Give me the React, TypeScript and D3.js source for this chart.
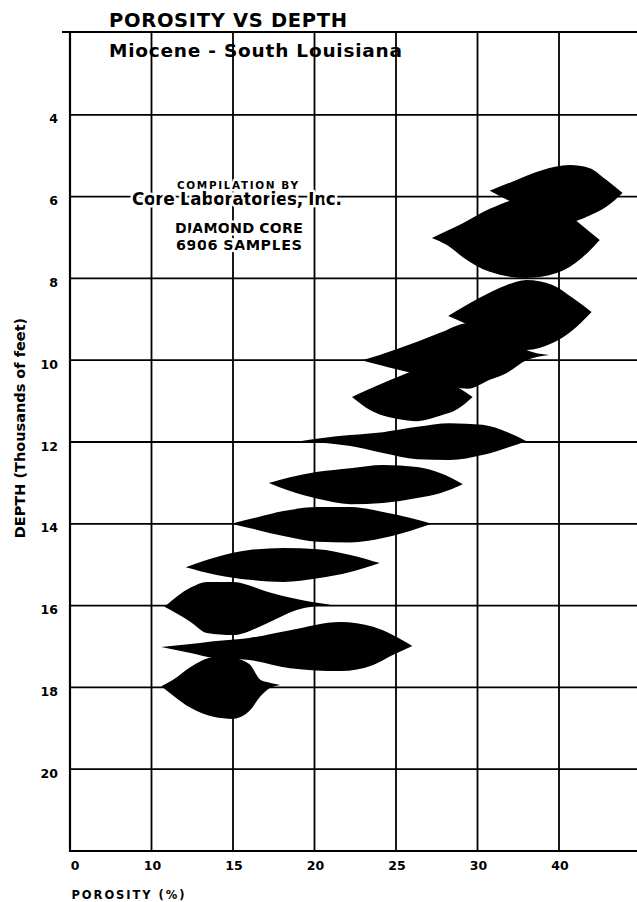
import React from 'react';
import * as d3 from 'd3';

// axis ticks as printed on the chart
const porosityTicks = [0, 10, 15, 20, 25, 30, 40];
const depthTicks = [4, 6, 8, 10, 12, 14, 16, 18, 20];

// porosity distribution per depth band: [porosity %, upper edge depth, lower edge depth] (thousand ft)
const band6 = [
  [31.5, 5.86, 5.86], [34.2, 5.64, 6.13], [38.0, 5.35, 6.38], [41.3, 5.23, 6.62],
  [43.7, 5.30, 6.47], [45.8, 5.59, 6.25], [47.8, 5.91, 5.91],
];
const band7 = [
  [27.2, 7.01, 7.01], [28.1, 6.84, 7.18], [29.1, 6.65, 7.48], [31.5, 6.30, 7.84],
  [36.0, 6.03, 7.99], [39.7, 6.21, 7.87], [42.9, 6.72, 7.48], [45.0, 7.06, 7.06],
];
const band9 = [
  [28.2, 8.92, 8.92], [30.2, 8.48, 9.26], [33.6, 8.16, 9.63], [36.0, 8.04, 9.75],
  [39.2, 8.16, 9.58], [41.7, 8.48, 9.26], [44.0, 8.82, 8.82],
];
const band10 = [
  [22.9, 10.0, 10.0], [24.0, 9.87, 10.12], [26.3, 9.55, 10.36], [27.7, 9.33, 10.56],
  [29.4, 9.09, 10.70], [31.5, 9.07, 10.48], [33.6, 9.31, 10.31], [36.0, 9.75, 10.0],
  [38.8, 9.87, 9.87],
];
const band11 = [
  [22.3, 10.90, 10.90], [23.4, 10.70, 11.22], [25.1, 10.41, 11.44], [26.3, 10.26, 11.49],
  [27.7, 10.41, 11.36], [28.8, 10.66, 11.19], [29.7, 10.90, 10.90],
];
const band12 = [
  [19.1, 11.98, 11.98], [20.5, 11.90, 12.02], [22.2, 11.83, 12.10], [24.2, 11.76, 12.27],
  [26.3, 11.63, 12.42], [28.3, 11.54, 12.44], [30.6, 11.58, 12.32], [33.9, 11.78, 12.12],
  [36.0, 11.98, 11.98],
];
const band13 = [
  [17.2, 13.0, 13.0], [18.5, 12.86, 13.20], [20.2, 12.73, 13.39], [22.2, 12.64, 13.52],
  [24.2, 12.56, 13.49], [26.3, 12.61, 13.37], [27.7, 12.76, 13.25], [29.1, 13.03, 13.03],
];
const band14 = [
  [14.9, 14.0, 14.0], [16.5, 13.84, 14.15], [18.1, 13.69, 14.30], [20.2, 13.59, 14.44],
  [22.2, 13.59, 14.46], [24.2, 13.71, 14.35], [25.9, 13.86, 14.17], [27.2, 14.0, 14.0],
];
const band15 = [
  [12.1, 15.06, 15.06], [14.0, 14.81, 15.25], [16.0, 14.64, 15.37], [18.1, 14.59, 15.42],
  [20.2, 14.62, 15.33], [22.2, 14.76, 15.18], [24.0, 14.96, 14.96],
];
const band16 = [
  [10.8, 16.03, 16.03], [12.4, 15.56, 16.40], [13.4, 15.42, 16.67], [15.0, 15.42, 16.72],
  [17.1, 15.66, 16.43], [18.9, 15.84, 16.11], [21.0, 15.98, 15.98],
];
const band17 = [
  [10.6, 17.01, 17.01], [12.4, 16.94, 17.16], [13.8, 16.87, 17.28], [16.0, 16.79, 17.33],
  [18.5, 16.60, 17.53], [21.6, 16.40, 17.60], [23.6, 16.52, 17.45], [24.8, 16.72, 17.21],
  [26.0, 16.99, 16.99],
];
const band18 = [
  [10.6, 17.97, 17.97], [11.3, 17.82, 18.19], [12.4, 17.50, 18.50], [13.8, 17.26, 18.72],
  [15.0, 17.28, 18.77], [16.0, 17.43, 18.58], [16.7, 17.82, 18.21], [17.3, 17.89, 18.01],
  [17.9, 17.94, 17.94],
];

const bands = [band6, band7, band9, band10, band11, band12, band13, band14, band15, band16, band17, band18];

export default function App() {
  const width = 637;
  const height = 902;
  const left = 70;
  const step = 81.5;

  // grid columns are evenly spaced even though the labels are not
  const x = d3.scaleLinear()
    .domain(porosityTicks)
    .range(porosityTicks.map((_, i) => left + i * step));
  const y = d3.scaleLinear().domain([2, 22]).range([33, 851]);

  const area = d3.area<number[]>()
    .x(d => x(d[0]))
    .y0(d => y(d[1]))
    .y1(d => y(d[2]))
    .curve(d3.curveMonotoneX);

  const halo = { stroke: '#fff', strokeWidth: 5, paintOrder: 'stroke' as const, strokeLinejoin: 'round' as const };

  return (
    <svg width={width} height={height} style={{ position: 'absolute', left: 0, top: 0, background: '#fff' }}
      fontFamily="'DejaVu Sans', sans-serif" fontWeight="bold">
      {/* grid */}
      <g stroke="#000" strokeWidth={1.8}>
        {depthTicks.map(d => (
          <line key={d} x1={left} x2={width} y1={y(d)} y2={y(d)} />
        ))}
        {porosityTicks.slice(1).map(p => (
          <line key={p} x1={x(p)} x2={x(p)} y1={y(2) - 1} y2={y(22)} />
        ))}
        <line x1={62} x2={width} y1={y(2) - 1} y2={y(2) - 1} strokeWidth={2} />
        <line x1={left} x2={width} y1={y(22)} y2={y(22)} strokeWidth={2} />
        <line x1={left} x2={left} y1={y(2) - 1} y2={y(22) + 1} strokeWidth={2.2} />
      </g>

      {/* titles */}
      <text x={109} y={27} fontSize={19.5} textLength={238} lengthAdjust="spacing">POROSITY VS DEPTH</text>
      <text x={109} y={57} fontSize={18.5} textLength={293} lengthAdjust="spacing">Miocene - South Louisiana</text>

      {/* note */}
      <g style={halo}>
        <text x={177} y={188.5} fontSize={10.5} textLength={121} lengthAdjust="spacing">COMPILATION BY</text>
        <text x={132} y={205} fontSize={17} textLength={210} lengthAdjust="spacing">Core Laboratories, Inc.</text>
        <text x={175} y={233} fontSize={14.5} textLength={128} lengthAdjust="spacing">DIAMOND CORE</text>
        <text x={176} y={249.5} fontSize={14.5} textLength={126} lengthAdjust="spacing">6906 SAMPLES</text>
      </g>

      {/* distributions */}
      <g fill="#000">
        {bands.map((b, i) => <path key={i} d={area(b) ?? ''} />)}
      </g>

      {/* depth axis */}
      <g fontSize={12.5} textAnchor="end">
        {depthTicks.map(d => (
          <text key={d} x={58} y={y(d) + 8.5}>{d}</text>
        ))}
      </g>
      <text transform={`translate(25,428) rotate(-90)`} fontSize={14.5} textAnchor="middle">DEPTH (Thousands of feet)</text>

      {/* porosity axis */}
      <g fontSize={12.5} textAnchor="middle">
        {porosityTicks.map(p => (
          <text key={p} x={x(p) + (p === 0 ? 5 : 1)} y={870}>{p}</text>
        ))}
      </g>
      <text x={71.5} y={899} fontSize={11.5} textLength={113} lengthAdjust="spacing">POROSITY (%)</text>
    </svg>
  );
}
